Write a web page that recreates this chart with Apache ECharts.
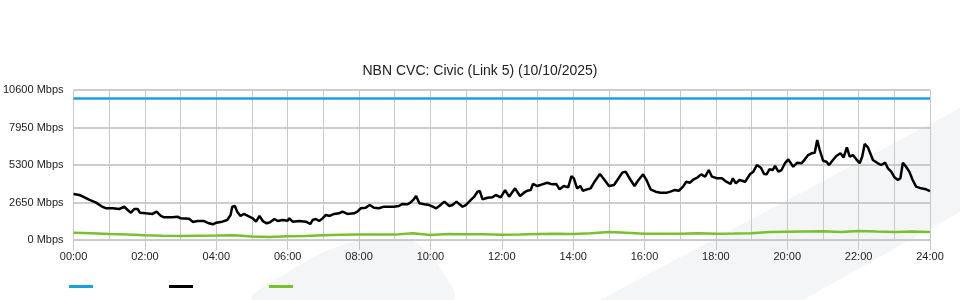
<!DOCTYPE html>
<html>
<head>
<meta charset="utf-8">
<script src="https://cdn.jsdelivr.net/npm/echarts@6/dist/echarts.min.js"></script>
<style>
html,body{margin:0;padding:0;background:#fff;}
#chart{width:960px;height:300px;}
</style>
</head>
<body>
<div id="chart"></div>
<script>
const titleText = 'NBN CVC: Civic (Link 5) (10/10/2025)';
const yTicks = [0, 2650, 5300, 7950, 10600];
const xTickHours = [0, 2, 4, 6, 8, 10, 12, 14, 16, 18, 20, 22, 24];
const seriesNames = ['Capacity', 'Inbound', 'Outbound'];

const capacityTimes = [0, 24];
const capacityValues = [10000, 10000];

const inTimes = [0.0,0.167,0.307,0.447,0.633,0.772,0.912,1.098,1.284,1.423,1.516,1.609,1.702,1.795,1.86,2.028,2.214,2.326,2.447,2.54,2.772,2.912,3.005,3.237,3.349,3.47,3.656,3.795,3.907,4.0,4.167,4.307,4.4,4.447,4.521,4.586,4.679,4.772,4.884,5.023,5.116,5.21,5.302,5.414,5.507,5.628,5.721,5.86,6.0,6.047,6.14,6.326,6.512,6.633,6.698,6.791,6.884,6.977,7.07,7.18,7.30,7.44,7.535,7.675,7.86,7.954,8.047,8.186,8.298,8.42,8.558,8.70,8.837,8.977,9.116,9.21,9.35,9.44,9.535,9.60,9.69,9.83,9.97,10.065,10.16,10.25,10.39,10.53,10.62,10.73,10.90,10.99,11.135,11.228,11.32,11.386,11.46,11.60,11.74,11.833,11.97,12.093,12.205,12.372,12.51,12.624,12.716,12.81,12.875,12.996,13.135,13.275,13.414,13.526,13.619,13.74,13.86,13.953,14.02,14.11,14.205,14.27,14.39,14.49,14.60,14.75,14.865,15.005,15.145,15.24,15.377,15.47,15.61,15.72,15.81,15.96,16.055,16.17,16.31,16.45,16.63,16.725,16.837,16.96,17.08,17.17,17.27,17.38,17.49,17.585,17.70,17.80,17.89,18.03,18.17,18.29,18.41,18.475,18.56,18.66,18.82,18.96,19.05,19.15,19.26,19.35,19.42,19.50,19.59,19.657,19.75,19.84,19.935,20.028,20.07,20.167,20.28,20.40,20.494,20.586,20.68,20.77,20.84,20.91,21.004,21.10,21.17,21.28,21.376,21.49,21.58,21.67,21.75,21.84,21.935,22.03,22.10,22.17,22.26,22.40,22.54,22.634,22.745,22.82,22.913,23.006,23.10,23.17,23.24,23.33,23.42,23.515,23.61,23.75,23.89,24.0];
const inValues = [3250,3180,3015,2830,2640,2400,2240,2240,2190,2350,2120,1930,2190,2190,1930,1885,1840,2000,1700,1600,1600,1650,1530,1500,1270,1340,1340,1180,1110,1225,1295,1410,1770,2355,2400,2000,1700,1840,1700,1530,1295,1700,1340,1180,1250,1485,1340,1410,1365,1530,1295,1340,1295,1130,1410,1485,1340,1530,1770,1700,1840,1885,2000,1840,1885,2000,2240,2280,2470,2280,2240,2355,2355,2355,2400,2545,2520,2640,2875,3110,2590,2520,2470,2355,2240,2400,2710,2400,2470,2710,2355,2470,2830,3060,3415,3460,2875,2990,3015,3180,3015,3530,3060,3650,3110,3345,3485,3530,3960,3815,3935,4050,3935,3960,3580,3815,3720,4520,4360,3650,3815,3485,3580,3650,4120,4665,4290,3815,3885,4240,4760,4830,4240,3815,4170,4640,4240,3580,3415,3345,3345,3415,3530,3480,3770,4120,4050,4290,4430,4640,4475,4945,4475,4360,4360,4120,3960,4360,4005,4240,4120,4665,4830,5300,5110,4665,4640,4995,4945,5230,4830,4945,5420,5700,5650,5180,5465,5420,5700,6005,6125,6170,7065,6360,5605,5535,5300,5650,5935,6125,5840,6550,5890,6005,5700,5420,5890,6785,6550,5650,5420,5300,5465,5065,4830,4430,4240,4360,5465,5180,4830,4240,3770,3650,3580,3460];

const outTimes = [0,0.5,1,1.5,2,2.5,3,3.5,4,4.5,5,5.5,6,6.5,7,7.5,8,8.5,9,9.5,10,10.5,11,11.5,12,12.5,13,13.5,14,14.5,15,15.5,16,16.5,17,17.5,18,18.5,19,19.5,20,20.5,21,21.5,22,22.5,23,23.5,24];
const outValues = [515,470,420,380,330,300,290,300,310,330,240,220,270,290,330,370,380,380,380,480,350,420,400,410,370,380,420,440,420,480,560,520,440,450,440,470,450,460,480,560,580,600,610,560,640,600,570,600,560];

function pairs(t, v) { return t.map((x, i) => [x, v[i]]); }
function pad(n) { return (n < 10 ? '0' : '') + n; }

const chart = echarts.init(document.getElementById('chart'), null, {renderer: 'canvas'});
const gridColor = '#c8c8c8';
const font = 'Liberation Sans, Arial, sans-serif';

chart.setOption({
  animation: false,
  backgroundColor: 'transparent',
  textStyle: {fontFamily: font},
  title: {
    text: titleText,
    left: 'center',
    top: 59,
    textStyle: {fontSize: 14, fontWeight: 'normal', color: '#222', fontFamily: font}
  },
  graphic: [
    {type: 'polygon', z: -10, silent: true,
     shape: {points: [[600,300],[960,108],[960,212],[803,300]]},
     style: {fill: '#f4f5f7'}},
    {type: 'polygon', z: -10, silent: true,
     shape: {smooth: 0.35, points: [[253,300],[300,265],[345,244],[385,239],[415,242],[440,268],[452,300]]},
     style: {fill: '#f4f5f7'}}
  ],
  legend: {
    left: 64,
    top: 280,
    icon: 'rect',
    itemWidth: 24,
    itemHeight: 3,
    itemGap: 76,
    formatter: () => '',
    data: seriesNames
  },
  grid: {left: 70, right: 30, top: 90, bottom: 60, containLabel: false},
  xAxis: {
    type: 'value',
    min: 0, max: 24, interval: 2,
    axisLine: {show: true, lineStyle: {color: gridColor}},
    axisTick: {show: true, length: 10, lineStyle: {color: gridColor}},
    axisLabel: {
      color: '#222', fontSize: 11, margin: 11, fontFamily: font,
      formatter: v => xTickHours.includes(v) ? pad(v) + ':00' : ''
    },
    splitLine: {show: true, lineStyle: {color: gridColor, width: 1}},
    minorTick: {show: false, splitNumber: 2},
    minorSplitLine: {show: true, lineStyle: {color: gridColor, width: 1}}
  },
  yAxis: {
    type: 'value',
    min: yTicks[0], max: yTicks[yTicks.length - 1], interval: 2650,
    axisLine: {show: true, lineStyle: {color: gridColor}},
    axisTick: {show: false},
    axisLabel: {color: '#222', fontSize: 11, margin: 10, fontFamily: font,
      formatter: v => v + ' Mbps'},
    splitLine: {show: true, lineStyle: {color: '#bdbdbd', width: 1.5}}
  },
  series: [
    {name: seriesNames[0], type: 'line', data: pairs(capacityTimes, capacityValues),
     showSymbol: false, lineStyle: {color: '#1a9fdf', width: 2.5}, itemStyle: {color: '#1a9fdf'}},
    {name: seriesNames[1], type: 'line', data: pairs(inTimes, inValues),
     showSymbol: false, lineStyle: {color: '#000', width: 2.5}, itemStyle: {color: '#000'}},
    {name: seriesNames[2], type: 'line', data: pairs(outTimes, outValues),
     showSymbol: false, lineStyle: {color: '#78c02c', width: 2.5}, itemStyle: {color: '#78c02c'}}
  ]
});
</script>
</body>
</html>
